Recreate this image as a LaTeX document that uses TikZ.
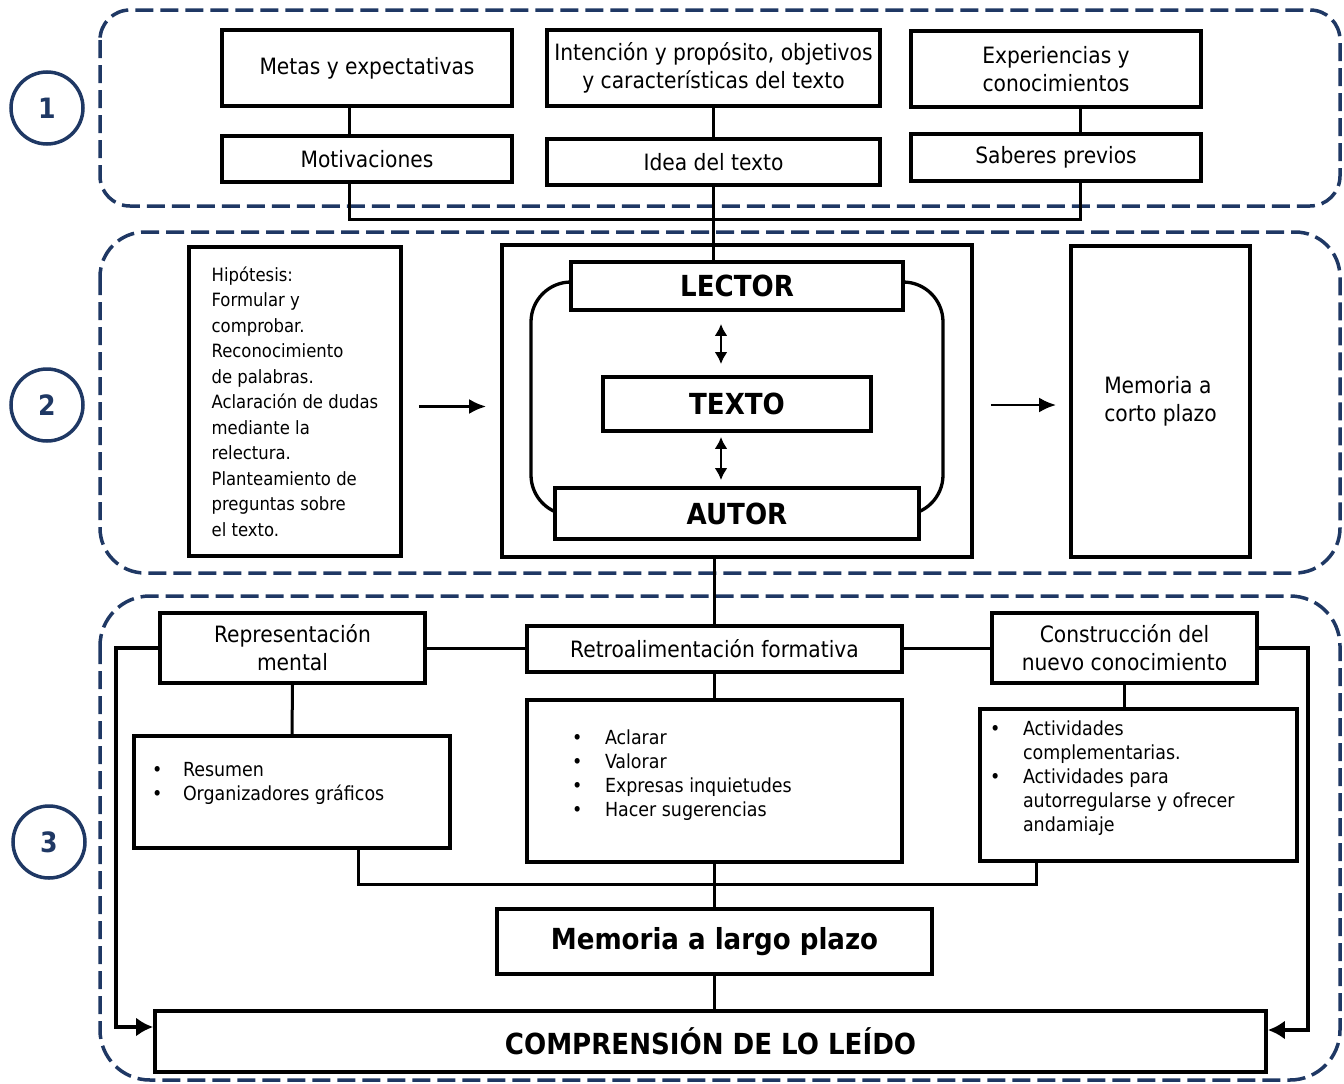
\documentclass[tikz,border=0pt]{standalone}
\usepackage{fontspec}
\setmainfont{DejaVu Sans Condensed}
\usetikzlibrary{arrows.meta}
\definecolor{navy}{RGB}{31,56,100}

\begin{document}
\begin{tikzpicture}[x=1pt,y=-1pt,
    panel/.style={draw=navy,line width=3.5pt,dash pattern=on 18pt off 7pt,rounded corners=#1},
    num/.style={draw=navy,line width=3.5pt,circle,minimum size=72pt,inner sep=0pt,
        text=navy,font=\bfseries\fontsize{28}{30}\selectfont},
    box/.style={draw,line width=3.8pt,fill=white,align=center,inner sep=0pt,
        font=\fontsize{22.5}{28}\selectfont},
    bbox/.style={box,font=\bfseries\fontsize{29}{32}\selectfont},
    lst/.style={box,align=left,font=\fontsize{19.4}{24}\selectfont},
    link/.style={line width=3pt},
    arr/.style={line width=2.7pt,-{Latex[length=17pt,width=15pt]}},
    sarr/.style={line width=3.5pt,-{Latex[length=17pt,width=19pt]}},
    darr/.style={line width=2.5pt,{Latex[length=12pt,width=13pt]}-{Latex[length=12pt,width=13pt]}}]
    \useasboundingbox (0,0) rectangle (1344,1084);
    %% Panels and numbers
    \draw[panel=30] (100,10) rectangle (1340,206);
    \draw[panel=45] (100,232) rectangle (1340,573);
    \draw[panel=50] (100,596) rectangle (1340,1080);
    \node[num] (n1) at (47,108) {1};
    \node[num] (n2) at (47,405) {2};
    \node[num] (n3) at (49,842) {3};
    %% Step 1
    \node[box,minimum width=290,minimum height=76] (metas) at (367,68) {Metas y expectativas};
    \node[box,minimum width=290,minimum height=46] (motiv) at (367,159) {Motivaciones};
    \node[box,minimum width=333,minimum height=76] (inten) at (713.5,68)
        {Intención y propósito, objetivos\\y características del texto};
    \node[box,minimum width=333,minimum height=46] (idea) at (713.5,162) {Idea del texto};
    \node[box,minimum width=290,minimum height=76] (exper) at (1056,69)
        {Experiencias y\\conocimientos};
    \node[box,minimum width=290,minimum height=47] (saber) at (1056,157.5) {Saberes previos};
    \coordinate (jl) at (349,219);
    \coordinate (jr) at (1080,219);
    \draw[link] (metas.south -| jl) -- (motiv.north -| jl);
    \draw[link] (inten.south) -- (idea.north);
    \draw[link] (exper.south -| jr) -- (saber.north -| jr);
    \draw[link] (motiv.south -| jl) -- (jl) -- (jr) -- (saber.south -| jr);
    %% Step 2
    \node[box,align=left,minimum width=212,minimum height=309,font=\fontsize{18.3}{25.5}\selectfont]
        (hipo) at (295,401.5) {Hipótesis:\\Formular y\\comprobar.\\Reconocimiento\\de palabras.\\
        Aclaración de dudas\\mediante la\\relectura.\\Planteamiento de\\preguntas sobre\\el texto.};
    \node[box,minimum width=470,minimum height=312] (outer) at (737,401) {};
    \draw[line width=3.3pt,rounded corners=40] (531,282) rectangle (943,515);
    \node[bbox,minimum width=332,minimum height=48] (lector) at (737,286) {LECTOR};
    \node[bbox,minimum width=268,minimum height=54] (texto) at (737,404) {TEXTO};
    \node[bbox,minimum width=364,minimum height=51] (autor) at (737,513.5) {AUTOR};
    \node[box,align=left,minimum width=179,minimum height=311] (memcp) at (1160.5,401.5)
        {Memoria a\\corto plazo};
    \coordinate (dx) at (721,0);
    \draw[darr,shorten <=12pt,shorten >=11pt] (lector.south -| dx) -- (texto.north -| dx);
    \draw[darr,shorten <=4pt,shorten >=6pt] (texto.south -| dx) -- (autor.north -| dx);
    \draw[arr,shorten <=16pt,shorten >=14pt] ([yshift=-5pt]hipo.east) -- ([yshift=-5pt]hipo.east -| outer.west);
    \draw[arr,shorten <=17pt,shorten >=13pt] ([yshift=-4pt]outer.east) -- ([yshift=-4pt]outer.east -| memcp.west);
    \draw[link] (idea.south) -- (idea.south |- lector.north);
    %% Step 3
    \node[box,minimum width=265,minimum height=70] (rep) at (292.5,648) {Representación\\mental};
    \node[box,minimum width=375,minimum height=46] (retro) at (714.5,649) {Retroalimentación formativa};
    \node[box,minimum width=265,minimum height=70] (constr) at (1124.5,648)
        {Construcción del\\nuevo conocimiento};
    \node[lst,minimum width=316,minimum height=112] (resumen) at (292,792)
        {\begin{tabular}{@{}p{31pt}@{}p{249pt}@{}}
        • & Resumen\\ • & Organizadores gráficos\\[16pt]
        \end{tabular}};
    \node[lst,minimum width=375,minimum height=162] (aclarar) at (714.5,781)
        {\begin{tabular}{@{}p{33pt}@{}p{252pt}@{}}
        • & Aclarar\\ • & Valorar\\ • & Expresas inquietudes\\
        • & Hacer sugerencias\\[10pt]
        \end{tabular}};
    \node[lst,minimum width=317,minimum height=152] (activ) at (1138.5,785)
        {\begin{tabular}{@{}p{33pt}@{}p{264pt}@{}}
        • & Actividades\\ & complementarias.\\ • & Actividades para\\
        & autorregularse y ofrecer\\ & andamiaje\\[13pt]
        \end{tabular}};
    \node[bbox,minimum width=435,minimum height=65] (memlp) at (714.5,941.5) {Memoria a largo plazo};
    \node[bbox,minimum width=1111,minimum height=61] (compr) at (710.5,1041.5) {COMPRENSIÓN DE LO LEÍDO};
    \coordinate (bl) at (358,884);
    \coordinate (br) at (1036,884);
    \coordinate (ll) at (116,1027);
    \coordinate (rr) at (1308,1030);
    \draw[link] (retro.north |- outer.south) -- (retro.north);
    \draw[link] (rep.east) -- (rep.east -| retro.west);
    \draw[link] (retro.east |- constr.west) -- (constr.west);
    \draw[link] (rep.south) -- (resumen.north);
    \draw[link] (retro.south) -- (aclarar.north);
    \draw[link] (constr.south) -- (constr.south |- activ.north);
    \draw[link] (resumen.south -| bl) -- (bl) -- (br) -- (activ.south -| br);
    \draw[link] (aclarar.south) -- (memlp.north);
    \draw[link] (memlp.south) -- (memlp.south |- compr.north);
    \draw[sarr] (rep.west) -| (ll) -- (ll -| compr.west);
    \draw[sarr] (constr.east) -| (rr) -- (rr -| compr.east);
\end{tikzpicture}
\end{document}
